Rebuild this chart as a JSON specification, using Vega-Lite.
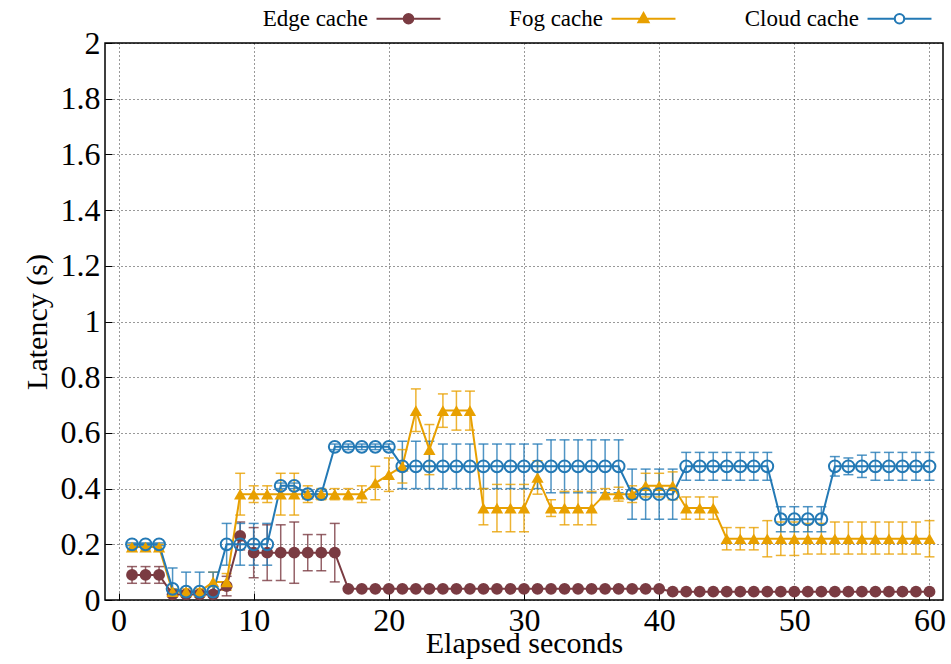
{
  "$schema": "https://vega.github.io/schema/vega-lite/v6.json",
  "width": 838,
  "height": 557,
  "autosize": {"type": "none"},
  "padding": {"left": 105, "top": 43, "right": 8, "bottom": 64},
  "background": "white",
  "config": {
    "font": "Liberation Serif",
    "view": {"stroke": "#000", "strokeWidth": 1.5},
    "style": {
      "guide-label": {"font": "Liberation Serif", "fontSize": 32, "fill": "#000"},
      "guide-title": {"font": "Liberation Serif", "fontSize": 30, "fill": "#000", "fontWeight": "normal"}
    },
    "axis": {
      "labelFont": "Liberation Serif",
      "labelFontSize": 32,
      "labelColor": "#000",
      "titleFont": "Liberation Serif",
      "titleFontSize": 30,
      "titleFontWeight": "normal",
      "titleColor": "#000",
      "domain": false,
      "grid": true,
      "gridColor": "#000",
      "gridDash": [1, 3],
      "gridOpacity": 0.8,
      "gridWidth": 1,
      "tickColor": "#000",
      "tickWidth": 1,
      "tickSize": -7,
      "labelPadding": 12
    },
    "axisX": {"tickCount": 12, "titlePadding": -8},
    "axisY": {"tickCount": 10, "titlePadding": 8},
    "legend": {
      "orient": "none",
      "direction": "horizontal",
      "columns": 3,
      "legendX": 292,
      "legendY": -36,
      "padding": 0,
      "columnPadding": 64,
      "symbolSize": 144,
      "symbolStrokeWidth": 2,
      "symbolOpacity": 1,
      "labelAlign": "right",
      "labelOffset": -52,
      "labelFont": "Liberation Serif",
      "labelFontSize": 23,
      "labelColor": "#000"
    }
  },
  "data": {
    "values": [
      {"s": "Edge cache", "x": 1, "y": 0.09, "lo": 0.06, "hi": 0.12},
      {"s": "Edge cache", "x": 2, "y": 0.09, "lo": 0.06, "hi": 0.12},
      {"s": "Edge cache", "x": 3, "y": 0.09, "lo": 0.06, "hi": 0.12},
      {"s": "Edge cache", "x": 4, "y": 0.02, "lo": 0.01, "hi": 0.03},
      {"s": "Edge cache", "x": 5, "y": 0.02, "lo": 0.01, "hi": 0.03},
      {"s": "Edge cache", "x": 6, "y": 0.02, "lo": 0.01, "hi": 0.03},
      {"s": "Edge cache", "x": 7, "y": 0.02, "lo": 0.01, "hi": 0.03},
      {"s": "Edge cache", "x": 8, "y": 0.05, "lo": 0.015, "hi": 0.085},
      {"s": "Edge cache", "x": 9, "y": 0.23, "lo": 0.18, "hi": 0.28},
      {"s": "Edge cache", "x": 10, "y": 0.17, "lo": 0.08, "hi": 0.26},
      {"s": "Edge cache", "x": 11, "y": 0.17, "lo": 0.07, "hi": 0.27},
      {"s": "Edge cache", "x": 12, "y": 0.17, "lo": 0.07, "hi": 0.27},
      {"s": "Edge cache", "x": 13, "y": 0.17, "lo": 0.06, "hi": 0.28},
      {"s": "Edge cache", "x": 14, "y": 0.17, "lo": 0.105, "hi": 0.235},
      {"s": "Edge cache", "x": 15, "y": 0.17, "lo": 0.105, "hi": 0.235},
      {"s": "Edge cache", "x": 16, "y": 0.17, "lo": 0.065, "hi": 0.275},
      {"s": "Edge cache", "x": 17, "y": 0.04, "lo": 0.035, "hi": 0.045},
      {"s": "Edge cache", "x": 18, "y": 0.04, "lo": 0.035, "hi": 0.045},
      {"s": "Edge cache", "x": 19, "y": 0.04, "lo": 0.035, "hi": 0.045},
      {"s": "Edge cache", "x": 20, "y": 0.04, "lo": 0.035, "hi": 0.045},
      {"s": "Edge cache", "x": 21, "y": 0.04, "lo": 0.035, "hi": 0.045},
      {"s": "Edge cache", "x": 22, "y": 0.04, "lo": 0.035, "hi": 0.045},
      {"s": "Edge cache", "x": 23, "y": 0.04, "lo": 0.035, "hi": 0.045},
      {"s": "Edge cache", "x": 24, "y": 0.04, "lo": 0.035, "hi": 0.045},
      {"s": "Edge cache", "x": 25, "y": 0.04, "lo": 0.035, "hi": 0.045},
      {"s": "Edge cache", "x": 26, "y": 0.04, "lo": 0.035, "hi": 0.045},
      {"s": "Edge cache", "x": 27, "y": 0.04, "lo": 0.035, "hi": 0.045},
      {"s": "Edge cache", "x": 28, "y": 0.04, "lo": 0.035, "hi": 0.045},
      {"s": "Edge cache", "x": 29, "y": 0.04, "lo": 0.035, "hi": 0.045},
      {"s": "Edge cache", "x": 30, "y": 0.04, "lo": 0.035, "hi": 0.045},
      {"s": "Edge cache", "x": 31, "y": 0.04, "lo": 0.035, "hi": 0.045},
      {"s": "Edge cache", "x": 32, "y": 0.04, "lo": 0.035, "hi": 0.045},
      {"s": "Edge cache", "x": 33, "y": 0.04, "lo": 0.035, "hi": 0.045},
      {"s": "Edge cache", "x": 34, "y": 0.04, "lo": 0.035, "hi": 0.045},
      {"s": "Edge cache", "x": 35, "y": 0.04, "lo": 0.035, "hi": 0.045},
      {"s": "Edge cache", "x": 36, "y": 0.04, "lo": 0.035, "hi": 0.045},
      {"s": "Edge cache", "x": 37, "y": 0.04, "lo": 0.035, "hi": 0.045},
      {"s": "Edge cache", "x": 38, "y": 0.04, "lo": 0.035, "hi": 0.045},
      {"s": "Edge cache", "x": 39, "y": 0.04, "lo": 0.035, "hi": 0.045},
      {"s": "Edge cache", "x": 40, "y": 0.04, "lo": 0.035, "hi": 0.045},
      {"s": "Edge cache", "x": 41, "y": 0.03, "lo": 0.026, "hi": 0.034},
      {"s": "Edge cache", "x": 42, "y": 0.03, "lo": 0.026, "hi": 0.034},
      {"s": "Edge cache", "x": 43, "y": 0.03, "lo": 0.026, "hi": 0.034},
      {"s": "Edge cache", "x": 44, "y": 0.03, "lo": 0.026, "hi": 0.034},
      {"s": "Edge cache", "x": 45, "y": 0.03, "lo": 0.026, "hi": 0.034},
      {"s": "Edge cache", "x": 46, "y": 0.03, "lo": 0.026, "hi": 0.034},
      {"s": "Edge cache", "x": 47, "y": 0.03, "lo": 0.026, "hi": 0.034},
      {"s": "Edge cache", "x": 48, "y": 0.03, "lo": 0.026, "hi": 0.034},
      {"s": "Edge cache", "x": 49, "y": 0.03, "lo": 0.026, "hi": 0.034},
      {"s": "Edge cache", "x": 50, "y": 0.03, "lo": 0.026, "hi": 0.034},
      {"s": "Edge cache", "x": 51, "y": 0.03, "lo": 0.026, "hi": 0.034},
      {"s": "Edge cache", "x": 52, "y": 0.03, "lo": 0.026, "hi": 0.034},
      {"s": "Edge cache", "x": 53, "y": 0.03, "lo": 0.026, "hi": 0.034},
      {"s": "Edge cache", "x": 54, "y": 0.03, "lo": 0.026, "hi": 0.034},
      {"s": "Edge cache", "x": 55, "y": 0.03, "lo": 0.026, "hi": 0.034},
      {"s": "Edge cache", "x": 56, "y": 0.03, "lo": 0.026, "hi": 0.034},
      {"s": "Edge cache", "x": 57, "y": 0.03, "lo": 0.026, "hi": 0.034},
      {"s": "Edge cache", "x": 58, "y": 0.03, "lo": 0.026, "hi": 0.034},
      {"s": "Edge cache", "x": 59, "y": 0.03, "lo": 0.026, "hi": 0.034},
      {"s": "Edge cache", "x": 60, "y": 0.03, "lo": 0.026, "hi": 0.034},

      {"s": "Fog cache", "x": 1, "y": 0.19, "lo": 0.18, "hi": 0.2},
      {"s": "Fog cache", "x": 2, "y": 0.19, "lo": 0.18, "hi": 0.2},
      {"s": "Fog cache", "x": 3, "y": 0.19, "lo": 0.18, "hi": 0.2},
      {"s": "Fog cache", "x": 4, "y": 0.03, "lo": 0.02, "hi": 0.04},
      {"s": "Fog cache", "x": 5, "y": 0.03, "lo": 0.02, "hi": 0.04},
      {"s": "Fog cache", "x": 6, "y": 0.03, "lo": 0.02, "hi": 0.04},
      {"s": "Fog cache", "x": 7, "y": 0.065, "lo": 0.03, "hi": 0.1},
      {"s": "Fog cache", "x": 8, "y": 0.065, "lo": 0.035, "hi": 0.095},
      {"s": "Fog cache", "x": 9, "y": 0.38, "lo": 0.305, "hi": 0.455},
      {"s": "Fog cache", "x": 10, "y": 0.38, "lo": 0.35, "hi": 0.41},
      {"s": "Fog cache", "x": 11, "y": 0.38, "lo": 0.35, "hi": 0.41},
      {"s": "Fog cache", "x": 12, "y": 0.38, "lo": 0.305, "hi": 0.455},
      {"s": "Fog cache", "x": 13, "y": 0.38, "lo": 0.305, "hi": 0.455},
      {"s": "Fog cache", "x": 14, "y": 0.38, "lo": 0.35, "hi": 0.41},
      {"s": "Fog cache", "x": 15, "y": 0.38, "lo": 0.36, "hi": 0.4},
      {"s": "Fog cache", "x": 16, "y": 0.38, "lo": 0.36, "hi": 0.4},
      {"s": "Fog cache", "x": 17, "y": 0.38, "lo": 0.36, "hi": 0.4},
      {"s": "Fog cache", "x": 18, "y": 0.38, "lo": 0.35, "hi": 0.41},
      {"s": "Fog cache", "x": 19, "y": 0.42, "lo": 0.36, "hi": 0.48},
      {"s": "Fog cache", "x": 20, "y": 0.45, "lo": 0.39, "hi": 0.51},
      {"s": "Fog cache", "x": 21, "y": 0.48, "lo": 0.42, "hi": 0.54},
      {"s": "Fog cache", "x": 22, "y": 0.68, "lo": 0.605, "hi": 0.758},
      {"s": "Fog cache", "x": 23, "y": 0.54, "lo": 0.45, "hi": 0.63},
      {"s": "Fog cache", "x": 24, "y": 0.68, "lo": 0.62, "hi": 0.74},
      {"s": "Fog cache", "x": 25, "y": 0.68, "lo": 0.61, "hi": 0.75},
      {"s": "Fog cache", "x": 26, "y": 0.68, "lo": 0.61, "hi": 0.75},
      {"s": "Fog cache", "x": 27, "y": 0.33, "lo": 0.27, "hi": 0.4},
      {"s": "Fog cache", "x": 28, "y": 0.33, "lo": 0.245, "hi": 0.415},
      {"s": "Fog cache", "x": 29, "y": 0.33, "lo": 0.245, "hi": 0.415},
      {"s": "Fog cache", "x": 30, "y": 0.33, "lo": 0.245, "hi": 0.415},
      {"s": "Fog cache", "x": 31, "y": 0.44, "lo": 0.38, "hi": 0.5},
      {"s": "Fog cache", "x": 32, "y": 0.33, "lo": 0.3, "hi": 0.36},
      {"s": "Fog cache", "x": 33, "y": 0.33, "lo": 0.27, "hi": 0.39},
      {"s": "Fog cache", "x": 34, "y": 0.33, "lo": 0.27, "hi": 0.39},
      {"s": "Fog cache", "x": 35, "y": 0.33, "lo": 0.27, "hi": 0.39},
      {"s": "Fog cache", "x": 36, "y": 0.38, "lo": 0.36, "hi": 0.4},
      {"s": "Fog cache", "x": 37, "y": 0.38, "lo": 0.355, "hi": 0.405},
      {"s": "Fog cache", "x": 38, "y": 0.38, "lo": 0.35, "hi": 0.41},
      {"s": "Fog cache", "x": 39, "y": 0.41, "lo": 0.37, "hi": 0.455},
      {"s": "Fog cache", "x": 40, "y": 0.41, "lo": 0.37, "hi": 0.455},
      {"s": "Fog cache", "x": 41, "y": 0.41, "lo": 0.36, "hi": 0.46},
      {"s": "Fog cache", "x": 42, "y": 0.33, "lo": 0.29, "hi": 0.37},
      {"s": "Fog cache", "x": 43, "y": 0.33, "lo": 0.29, "hi": 0.37},
      {"s": "Fog cache", "x": 44, "y": 0.33, "lo": 0.29, "hi": 0.37},
      {"s": "Fog cache", "x": 45, "y": 0.22, "lo": 0.18, "hi": 0.26},
      {"s": "Fog cache", "x": 46, "y": 0.22, "lo": 0.18, "hi": 0.26},
      {"s": "Fog cache", "x": 47, "y": 0.22, "lo": 0.18, "hi": 0.26},
      {"s": "Fog cache", "x": 48, "y": 0.22, "lo": 0.155, "hi": 0.285},
      {"s": "Fog cache", "x": 49, "y": 0.22, "lo": 0.16, "hi": 0.28},
      {"s": "Fog cache", "x": 50, "y": 0.22, "lo": 0.16, "hi": 0.28},
      {"s": "Fog cache", "x": 51, "y": 0.22, "lo": 0.165, "hi": 0.275},
      {"s": "Fog cache", "x": 52, "y": 0.22, "lo": 0.165, "hi": 0.275},
      {"s": "Fog cache", "x": 53, "y": 0.22, "lo": 0.165, "hi": 0.28},
      {"s": "Fog cache", "x": 54, "y": 0.22, "lo": 0.165, "hi": 0.28},
      {"s": "Fog cache", "x": 55, "y": 0.22, "lo": 0.165, "hi": 0.28},
      {"s": "Fog cache", "x": 56, "y": 0.22, "lo": 0.165, "hi": 0.28},
      {"s": "Fog cache", "x": 57, "y": 0.22, "lo": 0.165, "hi": 0.28},
      {"s": "Fog cache", "x": 58, "y": 0.22, "lo": 0.165, "hi": 0.28},
      {"s": "Fog cache", "x": 59, "y": 0.22, "lo": 0.165, "hi": 0.28},
      {"s": "Fog cache", "x": 60, "y": 0.22, "lo": 0.155, "hi": 0.285},

      {"s": "Cloud cache", "x": 1, "y": 0.2, "lo": 0.195, "hi": 0.205},
      {"s": "Cloud cache", "x": 2, "y": 0.2, "lo": 0.195, "hi": 0.205},
      {"s": "Cloud cache", "x": 3, "y": 0.2, "lo": 0.195, "hi": 0.205},
      {"s": "Cloud cache", "x": 4, "y": 0.04, "lo": -0.035, "hi": 0.115},
      {"s": "Cloud cache", "x": 5, "y": 0.03, "lo": -0.04, "hi": 0.1},
      {"s": "Cloud cache", "x": 6, "y": 0.03, "lo": -0.04, "hi": 0.1},
      {"s": "Cloud cache", "x": 7, "y": 0.03, "lo": -0.04, "hi": 0.1},
      {"s": "Cloud cache", "x": 8, "y": 0.2, "lo": 0.125, "hi": 0.275},
      {"s": "Cloud cache", "x": 9, "y": 0.2, "lo": 0.125, "hi": 0.275},
      {"s": "Cloud cache", "x": 10, "y": 0.2, "lo": 0.125, "hi": 0.275},
      {"s": "Cloud cache", "x": 11, "y": 0.2, "lo": 0.125, "hi": 0.275},
      {"s": "Cloud cache", "x": 12, "y": 0.41, "lo": 0.4, "hi": 0.42},
      {"s": "Cloud cache", "x": 13, "y": 0.41, "lo": 0.4, "hi": 0.42},
      {"s": "Cloud cache", "x": 14, "y": 0.38, "lo": 0.37, "hi": 0.39},
      {"s": "Cloud cache", "x": 15, "y": 0.38, "lo": 0.37, "hi": 0.39},
      {"s": "Cloud cache", "x": 16, "y": 0.55, "lo": 0.54, "hi": 0.56},
      {"s": "Cloud cache", "x": 17, "y": 0.55, "lo": 0.54, "hi": 0.56},
      {"s": "Cloud cache", "x": 18, "y": 0.55, "lo": 0.54, "hi": 0.56},
      {"s": "Cloud cache", "x": 19, "y": 0.55, "lo": 0.54, "hi": 0.56},
      {"s": "Cloud cache", "x": 20, "y": 0.55, "lo": 0.54, "hi": 0.56},
      {"s": "Cloud cache", "x": 21, "y": 0.48, "lo": 0.4, "hi": 0.57},
      {"s": "Cloud cache", "x": 22, "y": 0.48, "lo": 0.4, "hi": 0.57},
      {"s": "Cloud cache", "x": 23, "y": 0.48, "lo": 0.4, "hi": 0.57},
      {"s": "Cloud cache", "x": 24, "y": 0.48, "lo": 0.4, "hi": 0.56},
      {"s": "Cloud cache", "x": 25, "y": 0.48, "lo": 0.4, "hi": 0.56},
      {"s": "Cloud cache", "x": 26, "y": 0.48, "lo": 0.4, "hi": 0.56},
      {"s": "Cloud cache", "x": 27, "y": 0.48, "lo": 0.4, "hi": 0.56},
      {"s": "Cloud cache", "x": 28, "y": 0.48, "lo": 0.4, "hi": 0.56},
      {"s": "Cloud cache", "x": 29, "y": 0.48, "lo": 0.4, "hi": 0.56},
      {"s": "Cloud cache", "x": 30, "y": 0.48, "lo": 0.4, "hi": 0.56},
      {"s": "Cloud cache", "x": 31, "y": 0.48, "lo": 0.4, "hi": 0.56},
      {"s": "Cloud cache", "x": 32, "y": 0.48, "lo": 0.385, "hi": 0.575},
      {"s": "Cloud cache", "x": 33, "y": 0.48, "lo": 0.385, "hi": 0.575},
      {"s": "Cloud cache", "x": 34, "y": 0.48, "lo": 0.385, "hi": 0.575},
      {"s": "Cloud cache", "x": 35, "y": 0.48, "lo": 0.385, "hi": 0.575},
      {"s": "Cloud cache", "x": 36, "y": 0.48, "lo": 0.385, "hi": 0.575},
      {"s": "Cloud cache", "x": 37, "y": 0.48, "lo": 0.385, "hi": 0.575},
      {"s": "Cloud cache", "x": 38, "y": 0.38, "lo": 0.29, "hi": 0.47},
      {"s": "Cloud cache", "x": 39, "y": 0.38, "lo": 0.29, "hi": 0.47},
      {"s": "Cloud cache", "x": 40, "y": 0.38, "lo": 0.29, "hi": 0.47},
      {"s": "Cloud cache", "x": 41, "y": 0.38, "lo": 0.29, "hi": 0.47},
      {"s": "Cloud cache", "x": 42, "y": 0.48, "lo": 0.43, "hi": 0.53},
      {"s": "Cloud cache", "x": 43, "y": 0.48, "lo": 0.43, "hi": 0.53},
      {"s": "Cloud cache", "x": 44, "y": 0.48, "lo": 0.43, "hi": 0.53},
      {"s": "Cloud cache", "x": 45, "y": 0.48, "lo": 0.43, "hi": 0.53},
      {"s": "Cloud cache", "x": 46, "y": 0.48, "lo": 0.43, "hi": 0.53},
      {"s": "Cloud cache", "x": 47, "y": 0.48, "lo": 0.43, "hi": 0.53},
      {"s": "Cloud cache", "x": 48, "y": 0.48, "lo": 0.43, "hi": 0.53},
      {"s": "Cloud cache", "x": 49, "y": 0.29, "lo": 0.245, "hi": 0.335},
      {"s": "Cloud cache", "x": 50, "y": 0.29, "lo": 0.245, "hi": 0.335},
      {"s": "Cloud cache", "x": 51, "y": 0.29, "lo": 0.245, "hi": 0.335},
      {"s": "Cloud cache", "x": 52, "y": 0.29, "lo": 0.245, "hi": 0.335},
      {"s": "Cloud cache", "x": 53, "y": 0.48, "lo": 0.445, "hi": 0.515},
      {"s": "Cloud cache", "x": 54, "y": 0.48, "lo": 0.45, "hi": 0.51},
      {"s": "Cloud cache", "x": 55, "y": 0.48, "lo": 0.44, "hi": 0.52},
      {"s": "Cloud cache", "x": 56, "y": 0.48, "lo": 0.43, "hi": 0.53},
      {"s": "Cloud cache", "x": 57, "y": 0.48, "lo": 0.43, "hi": 0.53},
      {"s": "Cloud cache", "x": 58, "y": 0.48, "lo": 0.43, "hi": 0.53},
      {"s": "Cloud cache", "x": 59, "y": 0.48, "lo": 0.43, "hi": 0.53},
      {"s": "Cloud cache", "x": 60, "y": 0.48, "lo": 0.43, "hi": 0.53}
    ]
  },
  "encoding": {
    "x": {
      "field": "x",
      "type": "quantitative",
      "scale": {"domain": [-1, 61], "nice": false, "zero": false},
      "axis": {"title": "Elapsed seconds", "values": [0, 5, 10, 15, 20, 25, 30, 35, 40, 45, 50, 55, 60], "labelFont": "Liberation Serif", "labelFontSize": 32, "titleFont": "Liberation Serif", "titleFontSize": 30}
    },
    "color": {
      "field": "s",
      "type": "nominal",
      "title": null,
      "scale": {"domain": ["Edge cache", "Fog cache", "Cloud cache"], "range": ["#7a3b42", "#e8a000", "#2379b5"]}
    }
  },
  "layer": [
    {
      "mark": {"type": "point", "filled": false, "opacity": 0},
      "encoding": {
        "y": {"field": "y", "type": "quantitative", "scale": {"domain": [0, 2], "nice": false}, "title": "Latency (s)", "axis": {"format": "~g", "labelFont": "Liberation Serif", "labelFontSize": 32, "titleFont": "Liberation Serif", "titleFontSize": 30}},
        "fill": {"field": "s", "type": "nominal", "title": null, "scale": {"domain": ["Edge cache", "Fog cache", "Cloud cache"], "range": ["#7a3b42", "#e8a000", "transparent"]}},
        "shape": {"field": "s", "type": "nominal", "title": null, "scale": {"domain": ["Edge cache", "Fog cache", "Cloud cache"], "range": ["M-5.33,0L5.33,0M0.8,0A0.8,0.8 0 1,1 -0.8,0A0.8,0.8 0 1,1 0.8,0Z", "M-5.33,0L5.33,0M0,-0.95L0.85,0.6L-0.85,0.6Z", "M-5.33,0L-0.8,0M0.8,0L5.33,0M0.8,0A0.8,0.8 0 1,1 -0.8,0A0.8,0.8 0 1,1 0.8,0ZM0.78,0A0.78,0.78 0 1,0 -0.78,0A0.78,0.78 0 1,0 0.78,0Z"]}}
      }
    },
    {
      "mark": {"type": "rule", "strokeWidth": 1.5, "opacity": 0.8, "clip": true},
      "encoding": {
        "y": {"field": "lo", "type": "quantitative", "scale": {"domain": [0, 2], "nice": false}, "title": "Latency (s)", "axis": {"format": "~g", "labelFont": "Liberation Serif", "labelFontSize": 32, "titleFont": "Liberation Serif", "titleFontSize": 30}},
        "y2": {"field": "hi"}
      }
    },
    {
      "mark": {"type": "tick", "orient": "horizontal", "size": 10, "thickness": 1.5, "opacity": 0.8, "clip": true},
      "encoding": {
        "y": {"field": "lo", "type": "quantitative", "scale": {"domain": [0, 2], "nice": false}, "title": "Latency (s)", "axis": {"format": "~g", "labelFont": "Liberation Serif", "labelFontSize": 32, "titleFont": "Liberation Serif", "titleFontSize": 30}}
      }
    },
    {
      "mark": {"type": "tick", "orient": "horizontal", "size": 10, "thickness": 1.5, "opacity": 0.8, "clip": true},
      "encoding": {
        "y": {"field": "hi", "type": "quantitative", "scale": {"domain": [0, 2], "nice": false}, "title": "Latency (s)", "axis": {"format": "~g", "labelFont": "Liberation Serif", "labelFontSize": 32, "titleFont": "Liberation Serif", "titleFontSize": 30}}
      }
    },
    {
      "mark": {"type": "line", "strokeWidth": 2},
      "encoding": {
        "y": {"field": "y", "type": "quantitative", "scale": {"domain": [0, 2], "nice": false}, "title": "Latency (s)", "axis": {"format": "~g", "labelFont": "Liberation Serif", "labelFontSize": 32, "titleFont": "Liberation Serif", "titleFontSize": 30}}
      }
    },
    {
      "transform": [{"filter": "datum.s === 'Edge cache'"}],
      "mark": {"type": "point", "shape": "circle", "filled": true, "opacity": 1, "size": 140},
      "encoding": {
        "y": {"field": "y", "type": "quantitative", "scale": {"domain": [0, 2], "nice": false}, "title": "Latency (s)", "axis": {"format": "~g", "labelFont": "Liberation Serif", "labelFontSize": 32, "titleFont": "Liberation Serif", "titleFontSize": 30}}
      }
    },
    {
      "transform": [{"filter": "datum.s === 'Fog cache'"}],
      "mark": {"type": "point", "shape": "triangle-up", "filled": true, "opacity": 1, "size": 150},
      "encoding": {
        "y": {"field": "y", "type": "quantitative", "scale": {"domain": [0, 2], "nice": false}, "title": "Latency (s)", "axis": {"format": "~g", "labelFont": "Liberation Serif", "labelFontSize": 32, "titleFont": "Liberation Serif", "titleFontSize": 30}}
      }
    },
    {
      "transform": [{"filter": "datum.s === 'Cloud cache'"}],
      "mark": {"type": "point", "shape": "circle", "filled": false, "strokeWidth": 2, "opacity": 1, "size": 140},
      "encoding": {
        "y": {"field": "y", "type": "quantitative", "scale": {"domain": [0, 2], "nice": false}, "title": "Latency (s)", "axis": {"format": "~g", "labelFont": "Liberation Serif", "labelFontSize": 32, "titleFont": "Liberation Serif", "titleFontSize": 30}}
      }
    }
  ]
}
